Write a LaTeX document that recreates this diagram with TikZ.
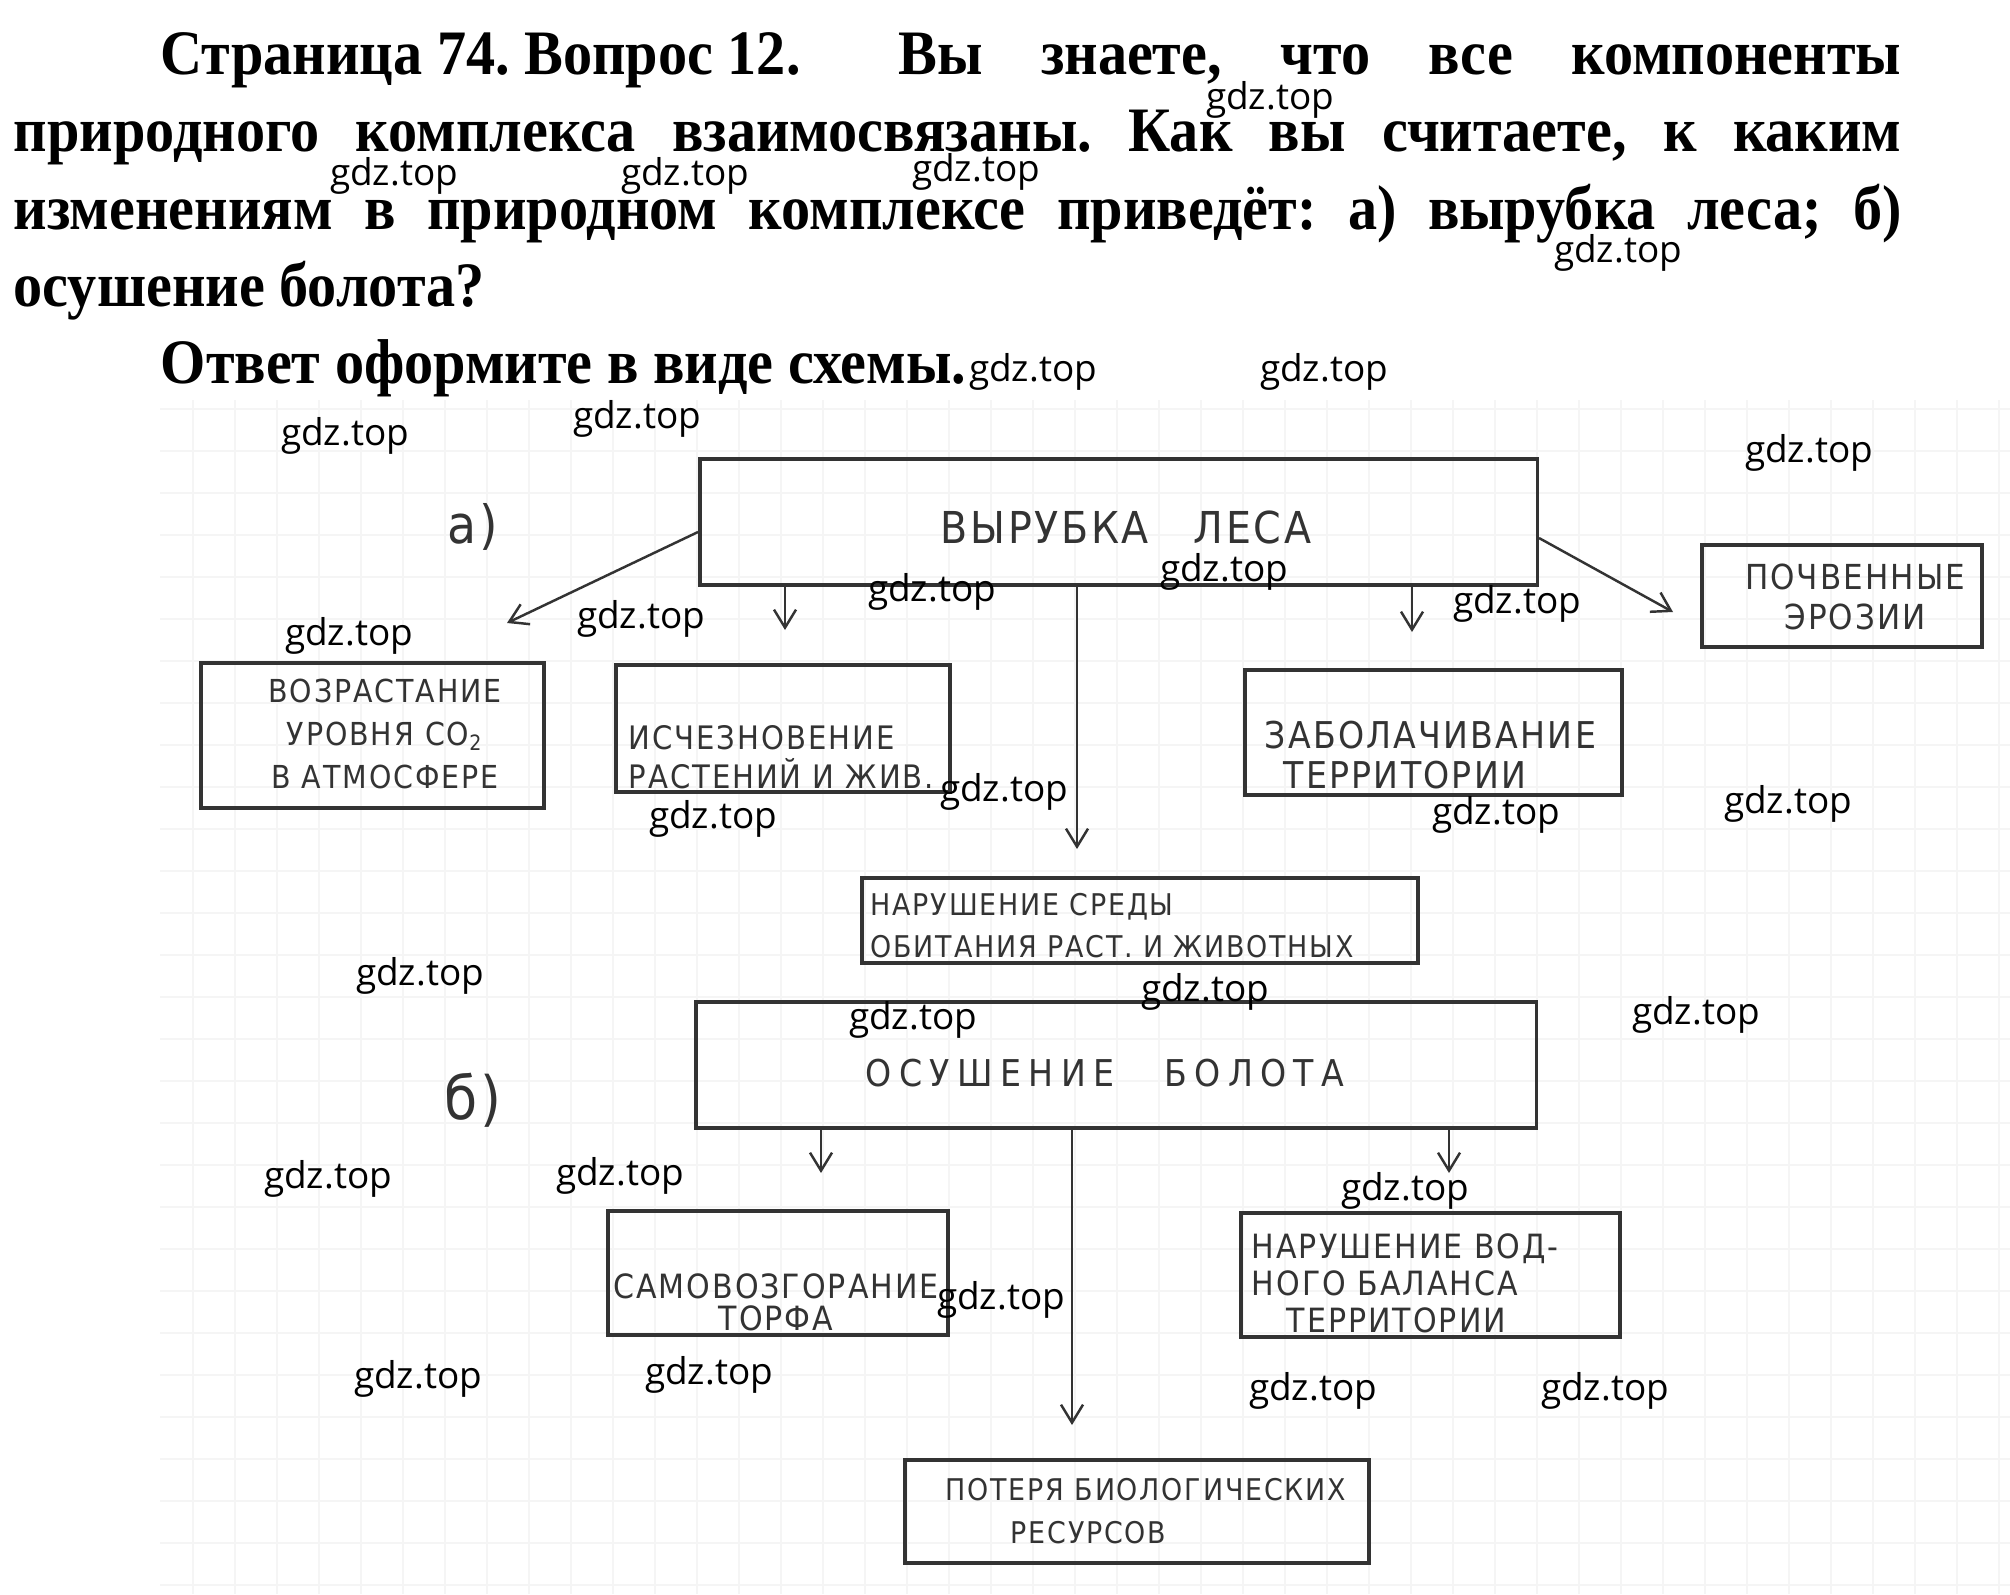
\documentclass[tikz,border=0pt]{standalone}
\usepackage{fontspec}
\setmainfont{Liberation Serif}
\newfontfamily\handfont{DejaVu Sans}[FakeStretch=0.9,LetterSpace=6]
\newfontfamily\wmfont{Open Sans}
\usetikzlibrary{arrows.meta}
\frenchspacing

\tikzset{
  box/.style={draw=black!80, line width=1pt, inner sep=0pt},
  hand/.style 2 args={font=\handfont\fontsize{#1}{#2}\selectfont, text=black!80, inner sep=0pt},
  arr/.style={draw=black!80, line width=0.7pt, -{Straight Barb[length=0.18cm,width=0.22cm]}},
  gridline/.style={draw=black!4, line width=0.4pt},
  head/.style={font=\bfseries\fontsize{18}{22}\selectfont, anchor=base west, inner sep=0pt},
  wm/.style={font=\wmfont\fontsize{10.5}{12}\selectfont, inner sep=0pt}
}
\newcommand{\narrow}[1]{\scalebox{0.92}[1]{#1}}

\begin{document}
\begin{tikzpicture}[x=0.01cm, y=-0.01cm]
    \fill[white] (0,0) rectangle (2010,1594);
    \useasboundingbox (0,0) rectangle (2010,1594);

    % squared paper
    \foreach \gx in {193,235,...,2010}
        \draw[gridline] (\gx,400) -- (\gx,1594);
    \foreach \gy in {409,451,...,1594}
        \draw[gridline] (160,\gy) -- (2010,\gy);

    % question
    \node[head] (q1) at (160,75) {\narrow{\makebox[18.91cm][s]{\mbox{Страница 74. Вопрос 12.}\hspace{0.43cm} Вы знаете, что все компоненты}}};
    \node[head] (q2) at (13,152) {\narrow{\makebox[20.51cm][s]{природного комплекса взаимосвязаны. Как вы считаете, к каким}}};
    \node[head] (q3) at (13,229) {\narrow{\makebox[20.51cm][s]{изменениям в природном комплексе приведёт: а) вырубка леса; б)}}};
    \node[head] (q4) at (13,306) {\narrow{осушение болота?}};
    \node[head] (q5) at (160,383) {\narrow{Ответ оформите в виде схемы.}};

    % a) felling
    \node[hand={15}{18}] (la) at (473,527) {а)};
    \node[box, minimum width=8.37cm, minimum height=1.26cm] (cut) at (1118.5,522) {};
    \node[hand={12.5}{15}] (cut-t) at (1126,527) {ВЫРУБКА\hspace{0.45cm}ЛЕСА};

    \node[box, minimum width=3.43cm, minimum height=1.45cm] (co2) at (372.5,735.5) {};
    \node[hand={9}{12.2}, align=center] (co2-t) at (385,734) {ВОЗРАСТАНИЕ\\УРОВНЯ CO\textsubscript{2}\\В АТМОСФЕРЕ};

    \node[box, minimum width=3.34cm, minimum height=1.27cm] (loss) at (783,728.5) {};
    \node[hand={9.2}{11.1}, align=left, anchor=west] (loss-t) at (628,757) {ИСЧЕЗНОВЕНИЕ\\РАСТЕНИЙ И ЖИВ.};

    \node[box, minimum width=3.77cm, minimum height=1.25cm] (swamp) at (1433.5,732.5) {};
    \node[hand={10.5}{11.4}, align=left, anchor=west] (swamp-t) at (1264,755) {ЗАБОЛАЧИВАНИЕ\\\hspace*{0.19cm}ТЕРРИТОРИИ};

    \node[box, minimum width=2.80cm, minimum height=1.02cm] (eros) at (1842,596) {};
    \node[hand={9.8}{11.4}, align=center] (eros-t) at (1855,597) {ПОЧВЕННЫЕ\\ЭРОЗИИ};

    \node[box, minimum width=5.56cm, minimum height=0.85cm] (habit) at (1140,920.5) {};
    \node[hand={8.5}{12}, align=left, anchor=west] (habit-t) at (870,926) {НАРУШЕНИЕ СРЕДЫ\\ОБИТАНИЯ РАСТ. И ЖИВОТНЫХ};

    \coordinate (a1) at (507,623);
    \coordinate (a2) at (785,630);
    \coordinate (a3) at (1077,849);
    \coordinate (a4) at (1412,632);
    \coordinate (a5) at (1673,612);
    \draw[arr] ([yshift=-0.1cm]cut.west) -- (a1);
    \draw[arr] (cut.south -| a2) -- (a2);
    \draw[arr] (cut.south -| a3) -- (a3);
    \draw[arr] (cut.south -| a4) -- (a4);
    \draw[arr] ([yshift=-0.16cm]cut.east) -- (a5);

    % b) drainage
    \node[hand={17}{20}] (lb) at (473,1100) {б)};
    \node[box, minimum width=8.40cm, minimum height=1.26cm] (drain) at (1116,1065) {};
    \node[hand={10.5}{13}] (drain-t) at (1105,1073) {\addfontfeature{LetterSpace=20}ОСУШЕНИЕ\hspace{0.5cm}БОЛОТА};

    \node[box, minimum width=3.40cm, minimum height=1.24cm] (fire) at (778,1273) {};
    \node[hand={9.5}{9}, align=center] (fire-t) at (776,1302) {САМОВОЗГОРАНИЕ\\ТОРФА};

    \node[box, minimum width=3.79cm, minimum height=1.24cm] (water) at (1430.5,1275) {};
    \node[hand={9.5}{10.5}, align=left, anchor=west] (water-t) at (1251,1283) {НАРУШЕНИЕ ВОД-\\НОГО БАЛАНСА\\\hspace*{0.35cm}ТЕРРИТОРИИ};

    \node[box, minimum width=4.64cm, minimum height=1.03cm] (bio) at (1137,1511.5) {};
    \node[hand={8.5}{12.2}, align=left, anchor=west] (bio-t) at (945,1511) {ПОТЕРЯ БИОЛОГИЧЕСКИХ\\\hspace*{0.65cm}РЕСУРСОВ};

    \coordinate (b1) at (821,1173);
    \coordinate (b2) at (1072,1425);
    \coordinate (b3) at (1449,1173);
    \draw[arr] (drain.south -| b1) -- (b1);
    \draw[arr] (drain.south -| b2) -- (b2);
    \draw[arr] (drain.south -| b3) -- (b3);

    % watermarks
    \foreach \wx/\wy [count=\i] in {1270/100, 394/176, 685/176, 976/172, 1618/253,
        1033/372, 1324/372, 345/436, 637/419, 1809/453, 932/592, 1224/572,
        349/636, 641/619, 1517/604, 713/819, 1004/792, 1496/815, 1788/804,
        420/976, 1205/992, 913/1020, 1696/1015, 328/1179, 620/1176, 1405/1191,
        1001/1300, 418/1379, 709/1375, 1313/1391, 1605/1391}
        \node[wm] (wm\i) at (\wx,\wy) {gdz.top};
\end{tikzpicture}
\end{document}
